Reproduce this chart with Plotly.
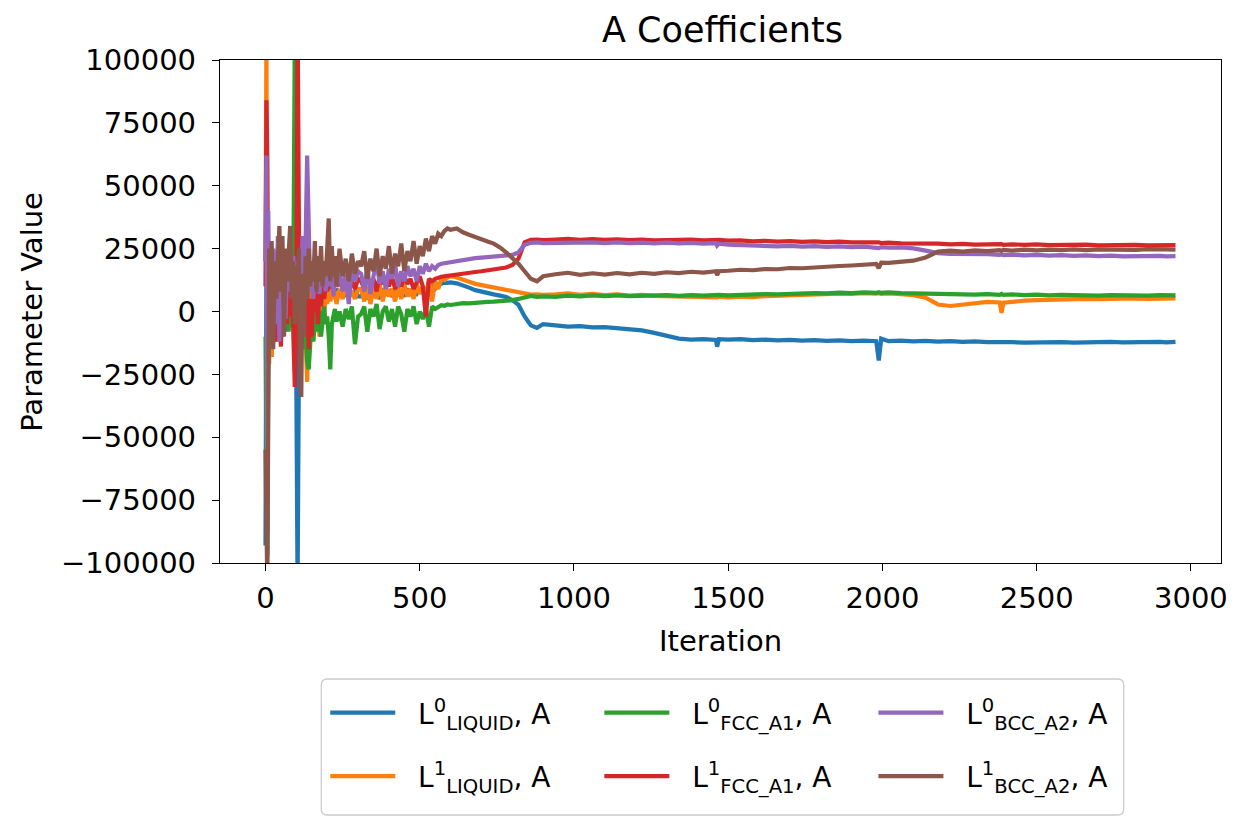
import plotly.graph_objects as go

# ---------------- data (parameter values in thousands) ----------------
iterations = (
    [0, 3, 6, 9, 12, 16, 20, 25, 30, 35, 40, 45, 50, 55, 60, 65, 70, 75, 80, 85,
     90, 95, 100, 104, 108, 112, 116, 120, 125, 130, 135, 140, 145, 150, 155, 160,
     165, 170, 175, 180, 185, 190, 195, 200, 205, 210, 215, 220, 225, 230, 240, 250,
     260, 270, 280, 290, 300]
    + [310, 320, 330, 340, 350, 360, 370, 380, 390, 400, 410, 420, 430, 440, 450,
       460, 470, 480, 490, 500, 510, 520, 530, 540, 550, 560, 570, 580, 590, 600]
    + [620, 640, 660, 680, 700, 720, 740, 760, 780, 800, 820, 840, 860, 880, 900]
    + [940, 980, 1020, 1060, 1100, 1140, 1180, 1220, 1260, 1300, 1340, 1380, 1420,
       1460, 1464, 1470, 1500, 1540, 1580, 1620, 1660, 1700, 1740, 1780, 1820, 1860,
       1900, 1940, 1980, 1988, 1996, 2020, 2060, 2100, 2140, 2180, 2220, 2260, 2300,
       2340, 2380, 2386, 2392, 2420, 2460, 2500, 2540, 2580, 2620, 2660, 2700, 2740,
       2780, 2820, 2860, 2900, 2920, 2950]
)

L0_LIQUID = (
    [-93, 20, -20, 10, -15, 5, -18, 10, -12, 8, 2, -10, 12, -5, 8, -8, 5, 12, -3, 8,
     0, 10, -30, -110, -25, 5, -10, 8, -5, 10, 3, 12, 0, 8, 2, 10, 4, 9, 3, 7,
     5, 10, 4, 8, 6, 9, 5, 8, 6, 9, 7, 8, 6, 9, 7, 8, 6]
    + [6, 8, 5, 9, 6, 8, 5, 9, 7, 8, 6, 9, 7, 8, 6, 9, 7, 8, 7, 9, 8, 9, 8, 10, 9,
       10.5, 11, 11.5, 11.4, 11.6]
    + [11.2, 10.5, 9.5, 8.5, 7.8, 7.2, 6.8, 6.3, 5.8, 4.5, 2.7, -2, -5.5, -6.5, -5]
    + [-5.5, -6, -5.8, -6.3, -6.2, -6.5, -6.8, -7.5, -8.5, -9.5, -10.8, -11.2, -11,
       -11.3, -14, -11, -11.2, -11, -11.4, -11.2, -11.5, -11.3, -11.6, -11.4, -11.7,
       -11.5, -11.8, -11.6, -11.8, -19.5, -10.8, -11.8, -11.6, -11.9, -11.7, -12,
       -11.8, -12.1, -11.9, -12.2, -12, -12.3, -12, -12.2, -12.4, -12.2, -12.4, -12.2,
       -12.4, -12.2, -12.3, -12.1, -12.3, -12.1, -12.3, -12.1, -12.3, -12.1]
)

L1_LIQUID = (
    [20, 110, -50, 15, -21, 5, -18, 8, -5, 10, 0, 12, -8, 6, -2, 10, -5, 8, 2, 12,
     -3, 7, 10, -5, 8, -10, 5, -8, 8, -15, -28, -5, 4, 8, -3, 6, 0, 5, -10, 2,
     6, -2, 7, 3, 8, 4, 9, 5, 8, 3, 9, 5, 10, 6, 8, 5, 9]
    + [9, 4, 10, 3, 9, 5, 11, 4, 10, 6, 9, 4, 10, 5, 11, 6, 9, 5, 11, 7, 10, 6, 13,
       4, 12, 9, 13, 12.5, 13.5, 14]
    + [13.5, 12.5, 11.8, 11, 10.5, 10, 9.6, 9.2, 8.6, 8.2, 7.8, 7, 6.7, 6.8, 6.6]
    + [6.8, 7.2, 6.6, 7, 6.5, 6.8, 6.3, 6.6, 6.2, 6.1, 5.8, 6, 5.7, 5.9, 5.6, 5.9,
       5.6, 5.9, 5.7, 6.1, 6.3, 6.6, 6.5, 6.9, 6.8, 7.1, 7, 7.3, 7.1, 7.3, 7, 7.2,
       6.9, 6.5, 5.5, 2.8, 2.2, 2.6, 3.2, 3.8, 3.6, -0.5, 3.5, 4, 4.3, 4.5, 4.7, 4.8,
       4.9, 5, 4.9, 5.1, 5, 5.2, 5, 5.2, 5.1, 5.2]
)

L0_FCC_A1 = (
    [-10, -40, -97, -20, 5, -10, 8, -5, 10, -8, 5, -3, 8, -10, 3, -5, 6, -8, 4, -2,
     8, 110, -5, -12, 3, -8, 2, -15, 0, -5, -20, -23, -10, -3, -12, -5, 2, -8, 0, -10,
     -3, 2, -5, -2, -10, -23, -5, -2, 1, -4, 0, -6, 1, -3, 2, -13, -2]
    + [-1, 2, -8, 1, -2, 3, -7, 0, 2, -4, 1, -6, 2, -1, -8, 1, -2, 2, -5, 0, -3, 1,
       -6, 2, 1, 2, 2.5, 2.3, 2.8, 2.6]
    + [3, 3.3, 3.2, 3.5, 3.6, 3.8, 3.9, 4, 4.2, 4.5, 5, 5.8, 6.2, 5.8, 6]
    + [5.8, 6.3, 6, 6.4, 6.1, 6.4, 6.1, 6.3, 6.2, 6.5, 6.2, 6.5, 6.3, 6.6, 6.4, 6.6,
       6.4, 6.7, 6.6, 6.9, 6.8, 7.1, 7, 7.3, 7.2, 7.5, 7.3, 7.6, 7.4, 7.7, 7.4, 7.6,
       7.3, 7.4, 7.1, 7, 6.8, 7, 6.7, 6.9, 6.6, 7, 6.6, 6.8, 6.5, 6.7, 6.4, 6.6, 6.4,
       6.6, 6.3, 6.5, 6.3, 6.5, 6.3, 6.5, 6.3, 6.4]
)

L1_FCC_A1 = (
    [10, 84, 60, -10, 12, -5, 18, -8, 5, -12, 15, -3, -14, 10, 8, 12, -5, 20, -2, 14,
     -8, -30, 5, 120, 40, -15, 10, -5, 15, -8, 10, -15, 5, -10, 12, 0, 8, -5, 10, 2,
     12, 5, 10, 8, 14, 9, 12, 8, 13, 10, 12, 9, 13, 10, 12, 9, 13]
    + [12, 9, 14, 10, 13, 8, 14, 11, 13, 10, 14, 9, 12, 10, 14, 11, 13, 9, 12, 14,
       10, -2, 13, 12, 13, 13.5, 13.8, 14, 14.2, 14.5]
    + [14.6, 15, 15.3, 15.7, 16, 16.3, 16.8, 17.2, 17.5, 18.5, 21, 27.5, 28.5, 28.6,
       28.4]
    + [28.6, 28.9, 28.5, 28.8, 28.5, 28.7, 28.4, 28.6, 28.3, 28.5, 28.3, 28.6, 28.3,
       28.5, 28.3, 28.5, 28.2, 28.3, 27.9, 28.1, 27.8, 28, 27.7, 27.9, 27.6, 27.8,
       27.5, 27.6, 27.3, 27.5, 27.2, 27.4, 27.1, 27.2, 26.9, 27, 26.7, 26.9, 26.6,
       26.8, 26.6, 26.8, 26.5, 26.7, 26.5, 26.7, 26.4, 26.6, 26.4, 26.6, 26.3, 26.5,
       26.3, 26.5, 26.3, 26.5, 26.3, 26.4]
)

L0_BCC_A2 = (
    [20, 62, -87, 40, 0, 20, 5, 25, 10, -5, 30, -12, 15, 5, 20, -3, 18, 8, 25, 10,
     22, 5, 15, 20, 10, 25, 15, 30, 15, 28, 62, 40, 8, 18, 5, 15, 10, 20, 7, 15,
     10, 18, 8, 14, 20, 10, 16, 6, 14, 10, 16, 8, 15, 3, 18, 12, 16]
    + [15, 8, 18, 7, 14, 20, 11, 16, 9, 17, 13, 19, 10, 16, 12, 18, 14, 17, 12, 18,
       15, 19, 16, 18, 17, 18.5, 19, 19.2, 19.6, 19.8]
    + [20.3, 20.6, 20.9, 21.2, 21.4, 21.6, 21.8, 22, 22.2, 22.5, 23.5, 26.5, 27.3,
       27.5, 27.2]
    + [27.3, 27.6, 27.3, 27.5, 27.2, 27.5, 27.2, 27.4, 27.1, 27.4, 27.1, 27.3, 27,
       27.2, 26.2, 27, 26.6, 26.4, 26.1, 26.2, 25.9, 26.1, 25.8, 26, 25.7, 25.9, 25.6,
       25.8, 25.5, 25.2, 25.6, 25.4, 25.5, 25.1, 24.2, 23.2, 22.9, 23, 22.7, 22.8,
       22.5, 22.7, 22.4, 22.6, 22.3, 22.5, 22.2, 22.4, 22.1, 22.3, 22, 22.2, 21.9,
       22.1, 21.9, 22.1, 21.9, 22]
)

L1_BCC_A2 = (
    [-55, -100, -110, -40, 25, 10, 28, -15, 20, 5, 22, 34, 8, 30, -10, 25, 12, 28, 34, 5,
     20, -5, 18, 10, 25, -20, -34, 15, -10, 22, 5, 25, 10, 20, 12, 28, 8, 22, 12, 26,
     10, 20, 14, 25, 37, 12, 26, 14, 22, 10, 25, 14, 21, 12, 23, 15, 20]
    + [18, 24, 13, 21, 16, 25, 14, 22, 17, 26, 15, 23, 18, 27, 16, 24, 20, 28, 19,
       26, 22, 29, 24, 30, 27, 31, 30, 32, 33, 32.5]
    + [33, 31.5, 30.5, 29.5, 28.5, 27.8, 27, 25.5, 23.5, 21.5, 19, 16, 13, 12, 14]
    + [14.8, 15.4, 14.6, 15.2, 14.7, 15.3, 14.8, 15.4, 15, 15.6, 15.3, 15.8, 15.5, 16,
       14.5, 16, 16.2, 16.6, 16.4, 16.9, 16.8, 17.3, 17.2, 17.6, 17.6, 18.1, 18.3,
       18.8, 18.9, 17.2, 19.4, 19.3, 19.6, 20.2, 21.5, 23.8, 24.2, 23.8, 24.3, 24,
       24.4, 24.1, 24.5, 24.2, 24.6, 24.3, 24.6, 24.4, 24.7, 24.4, 24.7, 24.5, 24.7,
       24.5, 24.8, 24.5, 24.7, 24.6]
)

series_names = [
    "L<sup>0</sup><sub>LIQUID</sub>, A",
    "L<sup>1</sup><sub>LIQUID</sub>, A",
    "L<sup>0</sup><sub>FCC_A1</sub>, A",
    "L<sup>1</sup><sub>FCC_A1</sub>, A",
    "L<sup>0</sup><sub>BCC_A2</sub>, A",
    "L<sup>1</sup><sub>BCC_A2</sub>, A",
]
series_values = [L0_LIQUID, L1_LIQUID, L0_FCC_A1, L1_FCC_A1, L0_BCC_A2, L1_BCC_A2]
series_colors = ["#1f77b4", "#ff7f0e", "#2ca02c", "#d62728", "#9467bd", "#8c564b"]
series_legend = ["legend", "legend", "legend2", "legend2", "legend3", "legend3"]

x_ticks = [0, 500, 1000, 1500, 2000, 2500, 3000]
y_ticks = [-100000, -75000, -50000, -25000, 0, 25000, 50000, 75000, 100000]

# ---------------- figure ----------------
FONT = "DejaVu Sans"
NBSP = "\u00a0"
fig = go.Figure()
for i, (name, vals, col, lg) in enumerate(zip(series_names, series_values,
                                             series_colors, series_legend)):
    fig.add_trace(go.Scatter(
        x=iterations, y=[v * 1000 for v in vals], mode="lines",
        name=NBSP * 2 + name,
        line=dict(color=col, width=4.2), legend=lg, legendgroup=f"g{i}",
    ))

# the html page body has an 8px margin: figure coords = page coords - 8
W, H = 1229, 810
L, R, T, B = 212, 9, 52, 255
pw, ph = W - L - R, H - T - B


def px_x(px):
    return (px - L) / pw


def px_y(py):
    return (H - B - py) / ph


axis_common = dict(
    showline=True, linecolor="black", linewidth=1.3, mirror=True,
    ticks="outside", ticklen=7, tickwidth=1.3, tickcolor="black",
    showgrid=False, zeroline=False,
    tickfont=dict(family=FONT, size=29, color="black"),
)

legend_common = dict(
    orientation="v", xanchor="left", yanchor="top", bgcolor="rgba(0,0,0,0)",
    borderwidth=0, font=dict(family=FONT, size=28, color="black"),
    tracegroupgap=24, itemwidth=65,
)

fig.update_layout(
    width=W, height=H,
    margin=dict(l=L, r=R, t=T, b=B),
    paper_bgcolor="white", plot_bgcolor="white",
    font=dict(family=FONT, color="black"),
    title=dict(text="A Coefficients", x=px_x(718), xref="paper", xanchor="center",
               y=1 - 22 / H, yref="container", yanchor="middle",
               font=dict(family=FONT, size=35, color="black")),
    xaxis=dict(range=[-147.5, 3097.5], tickvals=x_ticks, ticklabelstandoff=2,
               **axis_common),
    yaxis=dict(range=[-100000, 100000], tickvals=y_ticks, tickformat="d",
               ticklabelstandoff=10, **axis_common),
    legend=dict(x=px_x(318), y=px_y(680), **legend_common),
    legend2=dict(x=px_x(594), y=px_y(680), **legend_common),
    legend3=dict(x=px_x(870), y=px_y(680), **legend_common),
    showlegend=True,
)

fig.add_annotation(text="Iteration", xref="paper", yref="paper", x=0.5, y=px_y(633),
                   showarrow=False, xanchor="center", yanchor="middle",
                   font=dict(family=FONT, size=29, color="black"))
fig.add_annotation(text="Parameter Value", xref="paper", yref="paper", x=px_x(22), y=0.5,
                   showarrow=False, xanchor="center", yanchor="middle", textangle=-90,
                   font=dict(family=FONT, size=29, color="black"))

# legend frame (rounded rectangle like matplotlib's fancybox)
x0, x1 = px_x(314), px_x(1122)
y0, y1 = px_y(807), px_y(671)
rx, ry = 6 / pw, 6 / ph
path = (f"M {x0 + rx},{y1} L {x1 - rx},{y1} Q {x1},{y1} {x1},{y1 - ry} "
        f"L {x1},{y0 + ry} Q {x1},{y0} {x1 - rx},{y0} L {x0 + rx},{y0} "
        f"Q {x0},{y0} {x0},{y0 + ry} L {x0},{y1 - ry} Q {x0},{y1} {x0 + rx},{y1} Z")
fig.add_shape(type="path", path=path, xref="paper", yref="paper",
              line=dict(color="#cccccc", width=1.3), fillcolor="rgba(255,255,255,0.8)",
              layer="below")

fig.write_html("out.html")
